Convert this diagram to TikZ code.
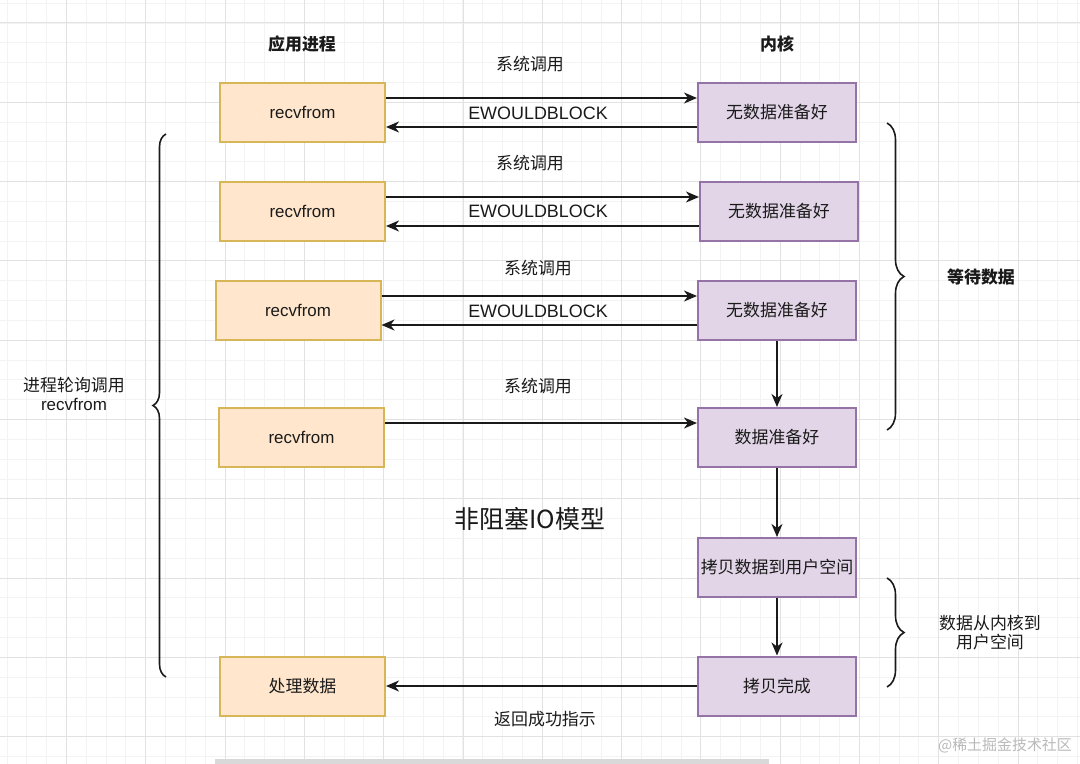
\documentclass[tikz,border=0pt]{standalone}
\usepackage{fontspec}
\setmainfont{Noto Sans CJK SC}
\newfontfamily\lat{Liberation Sans}
\usetikzlibrary{arrows.meta,decorations.pathreplacing}
\definecolor{lfill}{HTML}{FFE6CC}
\definecolor{ldraw}{HTML}{D6B656}
\definecolor{rfill}{HTML}{E1D5E7}
\definecolor{rdraw}{HTML}{9673A6}
\definecolor{ink}{HTML}{1A1A1A}
\definecolor{gminor}{HTML}{F3F3F3}
\definecolor{gmajor}{HTML}{E2E2E2}
\tikzset{
  lbox/.style={rectangle, fill=lfill, draw=ldraw, line width=2bp, minimum width=165bp, minimum height=59bp, inner sep=0pt, text=ink, font=\lat\fontsize{17}{20}\selectfont},
  rbox/.style={rectangle, fill=rfill, draw=rdraw, line width=2bp, minimum width=158bp, minimum height=59bp, inner sep=0pt, text=ink, font=\fontsize{17}{20}\selectfont},
  cjk/.style={text=ink, inner sep=0pt, font=\fontsize{17}{20}\selectfont},
  latlab/.style={text=ink, inner sep=0pt, font=\lat\fontsize{18}{21}\selectfont},
  head/.style={text=ink, inner sep=0pt, font=\bfseries\fontsize{17}{20}\selectfont},
  arr/.style={draw=ink, line width=1.6bp, -{Stealth[length=13bp,width=11bp,inset=4bp]}},
  brc/.style={draw=ink, line width=1.6bp, decorate, decoration={brace, amplitude=#1}},
}
\begin{document}
\begin{tikzpicture}[x=1bp,y=-1bp]
\useasboundingbox (0,0) rectangle (1080,764);
\fill[white] (0,0) rectangle (1080,764);
% grid
\foreach \i in {0,...,54} {\draw[gminor, line width=1bp] ({7+19.825*\i},0) -- ({7+19.825*\i},764);}
\foreach \j in {0,...,38} {\draw[gminor, line width=1bp] (0,{3.2+19.825*\j}) -- (1080,{3.2+19.825*\j});}
\foreach \i in {0,...,13} {\draw[gmajor, line width=1bp] ({66.5+79.3*\i},0) -- ({66.5+79.3*\i},764);}
\foreach \j in {0,...,9} {\draw[gmajor, line width=1bp] (0,{23+79.3*\j}) -- (1080,{23+79.3*\j});}
% scrollbar
\fill[gray!30] (215,759) rectangle (769,764);

% headers
\node[head] (hApp) at (302,44) {应用进程};
\node[head] (hKer) at (777,44) {内核};

% left boxes
\node[lbox] (L1) at (302.5,112.5) {recvfrom};
\node[lbox] (L2) at (302.5,211.5) {recvfrom};
\node[lbox] (L3) at (298,310.5) {recvfrom};
\node[lbox] (L4) at (301.5,437.5) {recvfrom};
\node[lbox, font=\fontsize{17}{20}\selectfont] (L5) at (302.5,686) {处理数据};

% right boxes
\node[rbox] (R1) at (777,112.5) {无数据准备好};
\node[rbox] (R2) at (779,211.5) {无数据准备好};
\node[rbox] (R3) at (777,310.5) {无数据准备好};
\node[rbox] (R4) at (777,437.5) {数据准备好};
\node[rbox] (R5) at (777,567.5) {拷贝数据到用户空间};
\node[rbox] (R6) at (777,686) {拷贝完成};

% horizontal arrows
\draw[arr] ([yshift=14.5bp]L1.east) -- ([yshift=14.5bp]R1.west);
\draw[arr] ([yshift=-14.5bp]R1.west) -- ([yshift=-14.5bp]L1.east);
\draw[arr] ([yshift=14.5bp]L2.east) -- ([yshift=14.5bp]R2.west);
\draw[arr] ([yshift=-14.5bp]R2.west) -- ([yshift=-14.5bp]L2.east);
\draw[arr] ([yshift=14.5bp]L3.east) -- ([yshift=14.5bp]R3.west);
\draw[arr] ([yshift=-14.5bp]R3.west) -- ([yshift=-14.5bp]L3.east);
\draw[arr] ([yshift=14.5bp]L4.east) -- ([yshift=14.5bp]R4.west);
\draw[arr] (R6.west) -- (L5.east);

% vertical arrows
\draw[arr] (R3.south) -- (R4.north);
\draw[arr] (R4.south) -- (R5.north);
\draw[arr] (R5.south) -- (R6.north);

% arrow labels
\node[cjk] (s1) at (530,64) {系统调用};
\node[latlab] (e1) at (538,113) {EWOULDBLOCK};
\node[cjk] (s2) at (530,163) {系统调用};
\node[latlab] (e2) at (538,211) {EWOULDBLOCK};
\node[cjk] (s3) at (538,268) {系统调用};
\node[latlab] (e3) at (538,311) {EWOULDBLOCK};
\node[cjk] (s4) at (538,386) {系统调用};
\node[cjk] (ret) at (545,719) {返回成功指示};

% title
\node[text=ink, inner sep=0pt, font=\fontsize{25}{29}\selectfont] (title) at (530,519) {非阻塞IO模型};

% braces
\coordinate (lbB) at (166,677);
\coordinate (lbT) at (166,134);
\draw[brc=13bp] (lbB) -- (lbT);
\node[cjk, align=center] (lblab) at (74,394) {进程轮询调用\\[-1bp]{\lat recvfrom}};

\coordinate (rb1T) at (887,123);
\coordinate (rb1B) at (887,430);
\draw[brc=17bp] (rb1T) -- (rb1B);
\node[head] (wait) at (981,277) {等待数据};

\coordinate (rb2T) at (887,578);
\coordinate (rb2B) at (887,687);
\draw[brc=17bp] (rb2T) -- (rb2B);
\node[cjk, align=center] (copylab) at (990,633) {数据从内核到\\[-1bp]用户空间};

% watermark
\node[text=gray!55, inner sep=0pt, font=\fontsize{15}{18}\selectfont] (wm) at (1005,745) {@稀土掘金技术社区};
\end{tikzpicture}
\end{document}
